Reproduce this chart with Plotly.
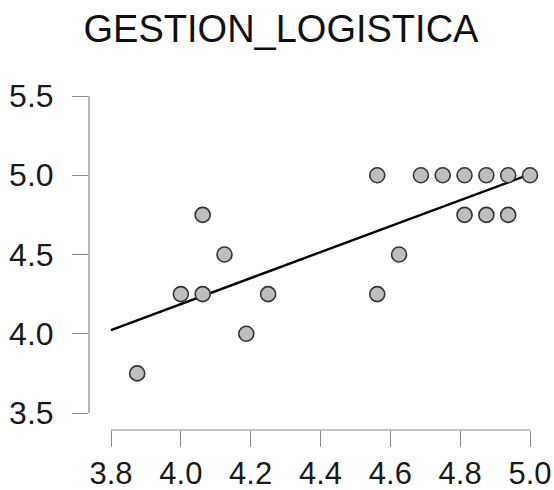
import numpy as np
import plotly.graph_objects as go

title = "GESTION_LOGISTICA"
x_vals = [3.875, 4.0, 4.0625, 4.0625, 4.125, 4.1875, 4.25, 4.5625, 4.5625, 4.625,
          4.6875, 4.75, 4.8125, 4.8125, 4.875, 4.875, 4.9375, 4.9375, 5.0]
y_vals = [3.75, 4.25, 4.75, 4.25, 4.5, 4.0, 4.25, 5.0, 4.25, 4.5,
          5.0, 5.0, 5.0, 4.75, 5.0, 4.75, 5.0, 4.75, 5.0]
x_ticks = [3.8, 4.0, 4.2, 4.4, 4.6, 4.8, 5.0]
y_ticks = [3.5, 4.0, 4.5, 5.0, 5.5]

slope, intercept = np.polyfit(x_vals, y_vals, 1)
line_x = [x_ticks[0], x_ticks[-1]]
line_y = [intercept + slope * v for v in line_x]

W, H = 554, 490
ml, mr, mt, mb = 89, 0, 80, 60
pw = W - ml - mr
ph = H - mt - mb
# x: 3.8 -> px 111, 5.0 -> px 530
xs = (530 - 111) / (x_ticks[-1] - x_ticks[0])
x0 = x_ticks[0] - (111 - ml) / xs
x1 = x0 + pw / xs
# y: 5.5 -> px 96, 3.5 -> px 413
ys = (413 - 96) / (y_ticks[-1] - y_ticks[0])
y1 = y_ticks[-1] + (96 - mt) / ys
y0 = y1 - ph / ys

fig = go.Figure()
fig.add_trace(go.Scatter(x=line_x, y=line_y, mode="lines",
                         line=dict(color="black", width=2.4), cliponaxis=False,
                         hoverinfo="skip"))
fig.add_trace(go.Scatter(x=x_vals, y=y_vals, mode="markers", cliponaxis=False,
                         marker=dict(size=15, color="#bebebe",
                                     line=dict(color="#333333", width=1.6))))

axis_col = "#8a8a8a"
fig.add_shape(type="line", xref="paper", yref="y", x0=0, x1=0,
              y0=y_ticks[0], y1=y_ticks[-1], line=dict(color=axis_col, width=1.2))
fig.add_shape(type="line", xref="x", yref="paper", y0=0, y1=0,
              x0=x_ticks[0], x1=x_ticks[-1], line=dict(color=axis_col, width=1.2))

fig.update_layout(
    width=W, height=H,
    margin=dict(l=ml, r=mr, t=mt, b=mb, pad=0, autoexpand=False),
    paper_bgcolor="white", plot_bgcolor="white",
    showlegend=False,
    font=dict(family="Liberation Sans, Arial, sans-serif", color="#1a1a1a"),
    title=dict(text=title, x=281 / W, xanchor="center", yref="container",
               y=1 - 29 / H, yanchor="middle", automargin=False,
               font=dict(size=38, color="#111111")),
    xaxis=dict(range=[x0, x1], tickvals=x_ticks, ticktext=[f"{v:.1f}" for v in x_ticks],
               showgrid=False, zeroline=False, showline=False, automargin=False,
               ticks="outside", ticklen=16, tickwidth=1.2, tickcolor=axis_col,
               tickfont=dict(size=31), ticklabelstandoff=0),
    yaxis=dict(range=[y0, y1], tickvals=y_ticks, ticktext=[f"{v:.1f}" for v in y_ticks],
               showgrid=False, zeroline=False, showline=False, automargin=False,
               ticks="outside", ticklen=16, tickwidth=1.2, tickcolor=axis_col,
               tickfont=dict(size=32), ticklabelstandoff=12),
)

fig.write_html("out.html")
